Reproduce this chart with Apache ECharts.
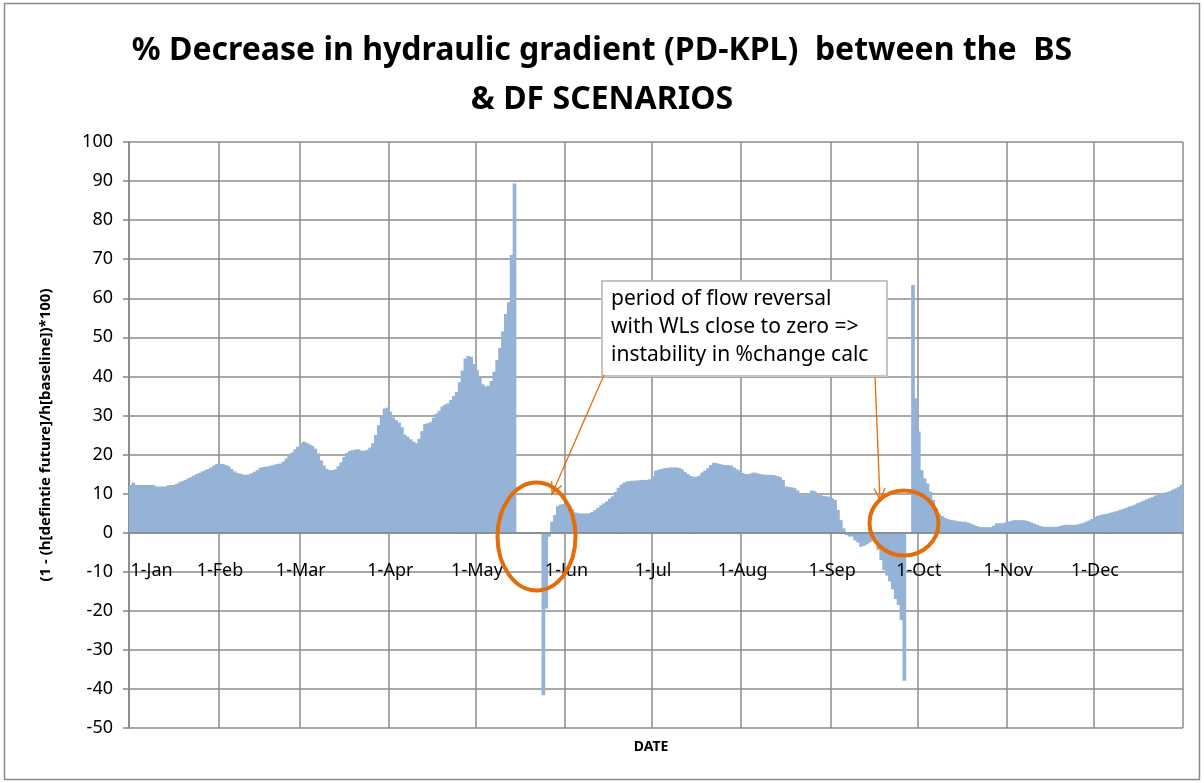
<!DOCTYPE html>
<html>
<head>
<meta charset="utf-8">
<title>% Decrease in hydraulic gradient</title>
<script src="https://cdn.jsdelivr.net/npm/echarts@6/dist/echarts.min.js"></script>
<style>
html, body { margin: 0; padding: 0; background: #fff; }
#chart { width: 1204px; height: 783px; }
</style>
</head>
<body>
<div id="chart"></div>
<script>
// months of the year, one bar per day
var monthNames = ['Jan', 'Feb', 'Mar', 'Apr', 'May', 'Jun', 'Jul', 'Aug', 'Sep', 'Oct', 'Nov', 'Dec']
var monthDays = [31, 28, 31, 30, 31, 30, 31, 31, 30, 31, 30, 31]

// % decrease per day (null = no bar)
var jan = [12.2, 12.8, 12.2, 12.2, 12.2, 12.2, 12.2, 12.2, 12.2, 11.8, 11.8, 11.8, 11.8, 12.1, 12.2, 12.2,
  12.5, 12.9, 13.2, 13.5, 13.9, 14.2, 14.6, 15.0, 15.3, 15.7, 16.0, 16.3, 16.7, 17.2, 17.6]
var feb = [17.6, 17.6, 17.3, 17.0, 16.3, 15.7, 15.3, 15.1, 14.9, 14.8, 14.9, 15.2, 15.6, 16.0, 16.6, 16.8,
  16.9, 17.0, 17.2, 17.4, 17.6, 17.7, 18.2, 19.0, 19.8, 20.5, 21.3, 22.0]
var mar = [22.9, 23.3, 23.0, 22.6, 22.2, 21.5, 20.3, 18.5, 17.2, 16.3, 16.0, 16.0, 16.2, 17.0, 18.0, 19.4,
  20.4, 20.9, 21.1, 21.3, 21.3, 21.0, 21.0, 21.2, 21.8, 22.9, 25.0, 27.5, 29.8, 31.8, 32.0]
var apr = [31.0, 29.5, 28.8, 28.2, 27.0, 25.1, 24.6, 23.9, 23.3, 22.9, 24.0, 26.0, 27.8, 28.0, 28.3, 29.4,
  30.5, 31.2, 32.3, 32.8, 33.1, 34.0, 35.0, 36.0, 38.5, 41.5, 44.6, 45.2, 45.0, 43.2]
var may = [41.6, 39.8, 38.0, 37.4, 37.6, 38.8, 41.2, 44.2, 47.3, 51.5, 56.0, 59.0, 71.1, 89.4, null, null,
  null, null, null, null, null, null, null, -41.6, -19.4, -1.0, 2.8, 4.5, 6.8, 7.2, 7.3]
var jun = [7.2, 7.1, 6.0, 5.2, 5.0, 4.9, 4.9, 4.9, 5.0, 5.3, 5.8, 6.4, 7.0, 7.5, 8.0, 8.7,
  9.3, 10.4, 11.5, 12.3, 12.8, 13.1, 13.2, 13.3, 13.3, 13.4, 13.5, 13.5, 13.5, 13.7]
var jul = [14.5, 15.9, 16.1, 16.3, 16.5, 16.6, 16.7, 16.7, 16.7, 16.6, 16.2, 15.5, 15.0, 14.5, 14.3, 14.3,
  14.6, 15.4, 15.9, 16.5, 17.3, 17.9, 17.8, 17.6, 17.4, 17.3, 17.3, 17.2, 16.7, 16.2, 15.9]
var aug = [15.3, 15.0, 15.0, 15.2, 15.4, 15.2, 15.0, 14.9, 14.8, 14.8, 14.8, 14.7, 14.5, 14.2, 13.5, 11.8,
  11.7, 11.6, 11.4, 10.8, 9.8, 9.6, 9.6, 10.0, 10.8, 10.6, 9.8, 9.6, 9.4, 9.3, 9.2]
var sep = [8.8, 8.4, 5.8, 3.2, 1.1, -0.6, -1.0, -1.0, -2.0, -2.5, -3.6, -3.4, -3.0, -2.5, -2.0, -1.5,
  -4.4, -7.0, -9.6, -11.0, -12.5, -14.5, -17.0, -18.5, -22.4, -37.9, null, null, 63.4, 34.4]
var oct = [25.9, 16.0, 13.9, 12.6, 10.5, 8.4, 6.2, 4.8, 4.3, 3.8, 3.5, 3.2, 3.2, 3.0, 2.9, 2.8,
  2.8, 2.6, 2.3, 2.0, 1.7, 1.5, 1.4, 1.4, 1.4, 1.4, 1.8, 2.4, 2.4, 2.4, 2.6]
var nov = [2.8, 3.0, 3.2, 3.2, 3.2, 3.2, 3.1, 2.9, 2.6, 2.3, 2.0, 1.7, 1.5, 1.5, 1.5, 1.5,
  1.5, 1.5, 1.7, 1.9, 2.0, 2.0, 2.0, 2.0, 2.1, 2.3, 2.5, 2.8, 3.1, 3.5]
var dec = [4.0, 4.3, 4.5, 4.7, 4.8, 5.0, 5.2, 5.4, 5.6, 5.9, 6.1, 6.4, 6.7, 6.9, 7.2, 7.6,
  7.9, 8.2, 8.5, 8.8, 9.1, 9.5, 9.8, 10.0, 10.2, 10.4, 10.6, 11.0, 11.3, 11.7, 12.3]

// y axis ticks
var yMin = -50
var yMax = 100
var yStep = 10

var values = jan.concat(feb, mar, apr, may, jun, jul, aug, sep, oct, nov, dec)
var categories = []
monthNames.forEach(function(m, i) {
  for (var d = 1; d <= monthDays[i]; d++) {
    categories.push(d + '-' + m)
  }
})

var FONT = '"Noto Sans", "DejaVu Sans", sans-serif'
var GRID_COLOR = '#8c8c8c'
var AXIS_COLOR = '#868686'
var ORANGE = '#E46C0A'
var BAR_COLOR = '#95B3D7'

var gridBox = { left: 129, right: 21, top: 142, bottom: 55 }
var plotWidth = 1204 - gridBox.left - gridBox.right
var plotHeight = 783 - gridBox.top - gridBox.bottom
// the date axis sits on the zero line, like in the spreadsheet
var zeroOffset = plotHeight * (0 - yMin) / (yMax - yMin)
// bars a touch wider than a day so neighbours close up with no seams
var dayWidth = plotWidth / categories.length

function isMonthStart(index, value) {
  return value.indexOf('1-') === 0
}

// open arrow head at (x2, y2) coming from (x1, y1)
function arrow(x1, y1, x2, y2) {
  var dx = x1 - x2
  var dy = y1 - y2
  var len = Math.sqrt(dx * dx + dy * dy)
  dx /= len
  dy /= len
  var a = 25 * Math.PI / 180
  var h = 13
  var p1 = [x2 + h * (dx * Math.cos(a) - dy * Math.sin(a)), y2 + h * (dx * Math.sin(a) + dy * Math.cos(a))]
  var p2 = [x2 + h * (dx * Math.cos(a) + dy * Math.sin(a)), y2 + h * (-dx * Math.sin(a) + dy * Math.cos(a))]
  var style = { stroke: ORANGE, lineWidth: 1.3 }
  return [
    { type: 'line', shape: { x1: x1, y1: y1, x2: x2, y2: y2 }, style: style, z: 100 },
    { type: 'polyline', shape: { points: [p1, [x2, y2], p2] }, style: style, z: 100 }
  ]
}

var chart = echarts.init(document.getElementById('chart'))

var option = {
  animation: false,
  backgroundColor: '#fff',
  title: {
    text: '% Decrease in hydraulic gradient (PD-KPL)  between the  BS\n& DF SCENARIOS',
    left: 'center',
    top: 21,
    textStyle: {
      fontFamily: FONT,
      fontSize: 32,
      fontWeight: 'bold',
      color: '#000',
      lineHeight: 49
    }
  },
  grid: gridBox,
  xAxis: [
    {
      // month grid lines, behind the bars
      type: 'category',
      data: categories,
      boundaryGap: true,
      position: 'bottom',
      axisLine: { show: false, onZero: false },
      axisTick: { show: false },
      axisLabel: { show: false },
      splitLine: {
        show: true,
        interval: isMonthStart,
        lineStyle: { color: GRID_COLOR, width: 1.5 }
      }
    },
    {
      // date axis on the zero line, above the bars
      type: 'category',
      data: categories,
      boundaryGap: true,
      position: 'bottom',
      offset: -zeroOffset,
      z: 10,
      axisLine: {
        onZero: false,
        lineStyle: { color: AXIS_COLOR, width: 1.5 }
      },
      axisTick: { show: false },
      axisLabel: {
        interval: isMonthStart,
        margin: 29,
        fontFamily: FONT,
        fontSize: 18,
        color: '#000',
        alignMinLabel: 'left'
      },
      splitLine: { show: false }
    }
  ],
  yAxis: {
    type: 'value',
    min: yMin,
    max: yMax,
    interval: yStep,
    name: '(1 - (h[defintie future]/h[baseline])*100)',
    nameLocation: 'middle',
    nameRotate: 90,
    nameGap: 76,
    nameTextStyle: {
      fontFamily: FONT,
      fontSize: 15,
      fontWeight: 'bold',
      color: '#000'
    },
    axisLine: {
      show: true,
      onZero: false,
      lineStyle: { color: AXIS_COLOR, width: 1.5 }
    },
    axisTick: {
      show: true,
      length: 6,
      lineStyle: { color: AXIS_COLOR, width: 1.5 }
    },
    axisLabel: {
      margin: 16,
      fontFamily: FONT,
      fontSize: 18,
      color: '#000'
    },
    splitLine: {
      lineStyle: { color: GRID_COLOR, width: 1.5 }
    }
  },
  series: [
    {
      type: 'bar',
      xAxisIndex: 0,
      data: values,
      barWidth: dayWidth + 0.8,
      itemStyle: { color: BAR_COLOR },
      silent: true
    }
  ],
  graphic: [
    {
      type: 'rect',
      shape: { x: 4.5, y: 3.5, width: 1195, height: 776 },
      style: { fill: 'none', stroke: '#8a8a8a', lineWidth: 1.5 },
      silent: true
    },
    {
      type: 'text',
      style: {
        x: 651,
        y: 747,
        text: 'DATE',
        fontFamily: FONT,
        fontSize: 14,
        fontWeight: 'bold',
        fill: '#000',
        align: 'center',
        verticalAlign: 'middle'
      }
    },
    {
      type: 'rect',
      shape: { x: 602, y: 281, width: 285, height: 95 },
      style: { fill: '#fff', stroke: '#c4c4c4', lineWidth: 2 },
      z: 90
    },
    {
      type: 'text',
      style: {
        x: 611,
        y: 285,
        text: 'period of flow reversal\nwith WLs close to zero =>\ninstability in %change calc',
        fontFamily: FONT,
        fontSize: 21,
        lineHeight: 28,
        fill: '#000',
        align: 'left',
        verticalAlign: 'top'
      },
      z: 91
    },
    {
      type: 'ellipse',
      shape: { cx: 536.5, cy: 536.5, rx: 39, ry: 54 },
      style: { fill: 'none', stroke: ORANGE, lineWidth: 4 },
      z: 100
    },
    {
      type: 'ellipse',
      shape: { cx: 904, cy: 523, rx: 34.5, ry: 32.5 },
      style: { fill: 'none', stroke: ORANGE, lineWidth: 4 },
      z: 100
    }
  ].concat(arrow(604, 375, 552, 494), arrow(875, 377, 880, 500))
}

chart.setOption(option)
</script>
</body>
</html>
